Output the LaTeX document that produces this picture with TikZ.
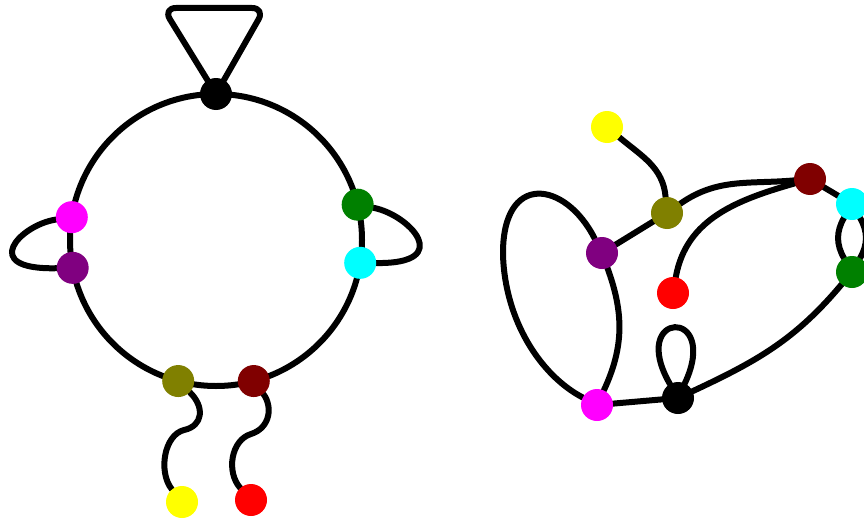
\documentclass[tikz,border=0pt]{standalone}
\usetikzlibrary{calc}
\pgfdeclarelayer{bg}
\pgfsetlayers{bg,main}
\definecolor{cmag}{RGB}{255,0,255}
\definecolor{cpur}{RGB}{128,0,128}
\definecolor{cgrn}{RGB}{0,128,0}
\definecolor{ccyn}{RGB}{0,255,255}
\definecolor{coli}{RGB}{128,128,0}
\definecolor{cmar}{RGB}{128,0,0}
\definecolor{cyel}{RGB}{255,255,0}
\definecolor{cred}{RGB}{255,0,0}
\begin{document}
\begin{tikzpicture}[x=1pt,y=-1pt,
  dot/.style={circle,inner sep=0pt,minimum size=32pt},
  wire/.style={line width=6pt,line cap=round,line join=round}]
\useasboundingbox (0,0) rectangle (864,519);
\coordinate (C) at (216,240);
% left figure nodes
\node[dot,fill=black] (k1) at ($(C)+(90:146pt)$) {};
\node[dot,fill=cgrn] (g1) at ($(C)+(14:146pt)$) {};
\node[dot,fill=ccyn] (c1) at ($(C)+(-9:146pt)$) {};
\node[dot,fill=cmar] (m1) at ($(C)+(-75:146pt)$) {};
\node[dot,fill=coli] (o1) at ($(C)+(-105:146pt)$) {};
\node[dot,fill=cpur] (p1) at ($(C)+(191:146pt)$) {};
\node[dot,fill=cmag] (q1) at ($(C)+(171:146pt)$) {};
\node[dot,fill=cyel] (y1) at (182,502) {};
\node[dot,fill=cred] (r1) at (251,500) {};
% right figure nodes
\node[dot,fill=cyel] (y2) at (607,127) {};
\node[dot,fill=coli] (o2) at (667,213) {};
\node[dot,fill=cpur] (p2) at (602,253) {};
\node[dot,fill=cmar] (m2) at (810,179) {};
\node[dot,fill=ccyn] (c2) at (852,204) {};
\node[dot,fill=cgrn] (g2) at (852,272) {};
\node[dot,fill=cred] (r2) at (673,293) {};
\node[dot,fill=cmag] (q2) at (597,405) {};
\node[dot,fill=black] (k2) at (678,398) {};
\begin{pgfonlayer}{bg}
\fill[white] (0,0) rectangle (864,519);
% circle through the seven nodes
\draw[wire] (C) circle[radius=146pt];
% triangle
\draw[wire,rounded corners=13pt] (k1.center) -- (163,8) -- (265,8) -- cycle;
% side loops
\draw[wire] (q1) .. controls (20,225) and (-22,270) .. (p1);
\draw[wire] (g1) .. controls (410,215) and (455,264) .. (c1);
% wiggles
\coordinate (w1) at (184,430);
\coordinate (w2) at (251,434);
\draw[wire] (o1) .. controls (205,407) and (203,426) .. (w1) .. controls (164,435) and (158,472) .. (y1);
\draw[wire] (m1) .. controls (273,407) and (270,428) .. (w2) .. controls (231,440) and (226,472) .. (r1);
% right figure
\draw[wire] (y2) to[out=-40,in=95] (o2);
\draw[wire] (o2) -- (p2);
\draw[wire] (o2) to[out=35,in=185] (m2);
\draw[wire] (r2) to[out=80,in=196] (m2);
\draw[wire] (m2) -- (c2);
\draw[wire] (c2) to[bend right=30] (g2);
\draw[wire] (c2) to[bend left=30] (g2);
\draw[wire] (g2) to[out=230,in=25] (k2);
\draw[wire] (p2) to[out=-70,in=65] (q2);
\coordinate (lp) at (503,255);
\draw[wire] (p2) .. controls (565,180) and (502,172) .. (lp) .. controls (505,320) and (540,375) .. (q2);
\draw[wire] (q2) -- (k2);
\draw[wire] (k2) to[out=120,in=65,distance=85pt] (k2);
\end{pgfonlayer}
\end{tikzpicture}
\end{document}
